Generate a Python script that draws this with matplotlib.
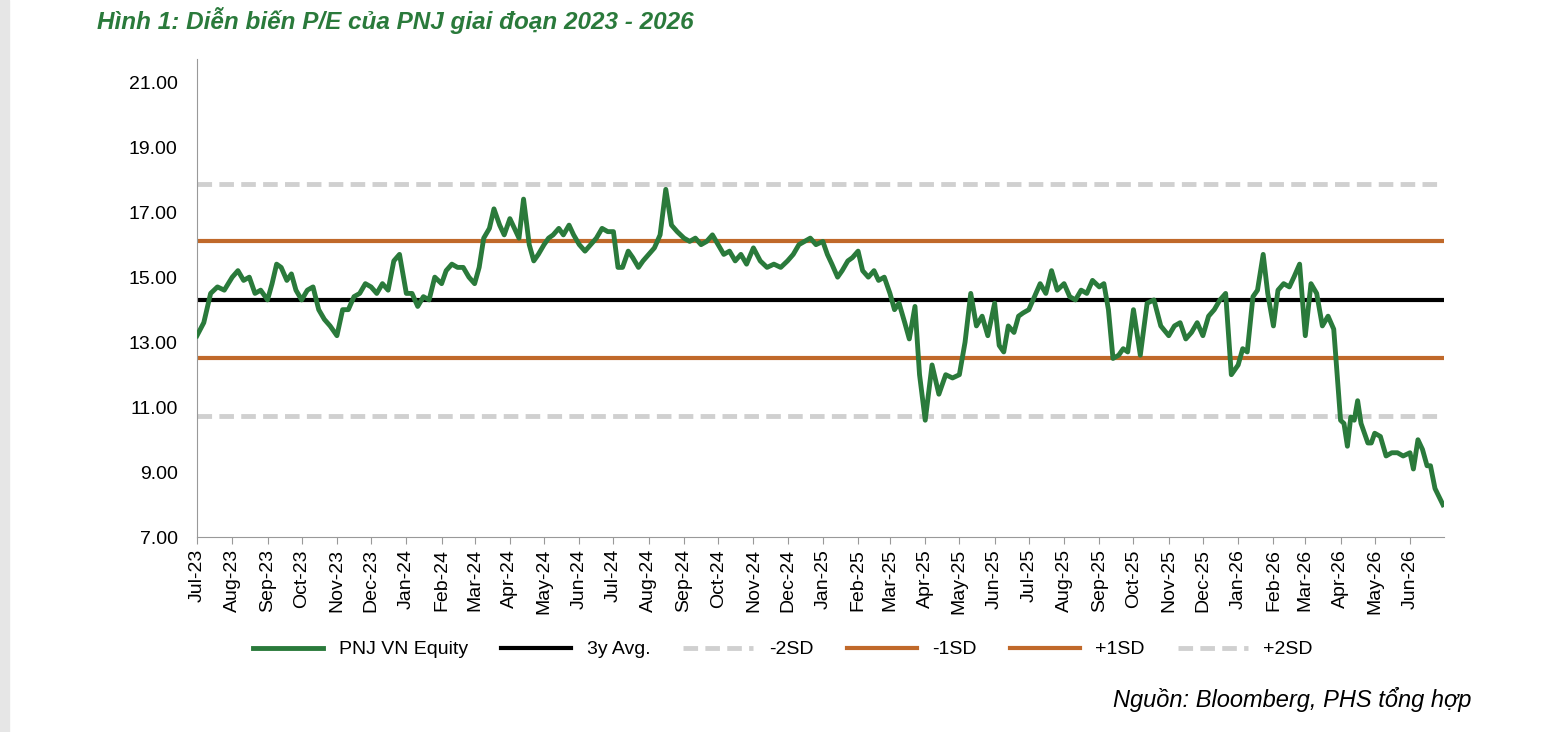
import matplotlib.pyplot as plt
import matplotlib.dates as mdates
import numpy as np
import datetime as dt

plt.rcParams['font.family'] = ['Liberation Sans', 'DejaVu Sans']

# P/E readings, grouped per month (Jul-23 .. Jun-26)
month_starts = [dt.date(2023 + (6 + i) // 12, (6 + i) % 12 + 1, 1) for i in range(36)]
pe_by_month = [
    [13.2, 13.6, 14.5, 14.7, 14.6],
    [15.0, 15.2, 14.9, 15.0, 14.5, 14.6],
    [14.3, 14.8, 15.4, 15.3, 14.9, 15.1, 14.6],
    [14.3, 14.6, 14.7, 14.0, 13.7, 13.5],
    [13.2, 14.0, 14.0, 14.4, 14.5, 14.8],
    [14.7, 14.5, 14.8, 14.6, 15.5, 15.7],
    [14.5, 14.5, 14.1, 14.4, 14.3, 15.0],
    [14.8, 15.2, 15.4, 15.3, 15.3, 15.0],
    [14.8, 15.3, 16.2, 16.5, 17.1, 16.6, 16.3],
    [16.8, 16.5, 16.2, 17.4, 16.0, 15.5, 15.7],
    [16.0, 16.2, 16.3, 16.5, 16.3, 16.6, 16.3],
    [16.0, 15.8, 16.0, 16.2, 16.5, 16.4],
    [16.4, 15.3, 15.3, 15.8, 15.6, 15.3, 15.5],
    [15.7, 15.9, 16.3, 17.7, 16.6, 16.4],
    [16.2, 16.1, 16.2, 16.0, 16.1, 16.3],
    [16.0, 15.7, 15.8, 15.5, 15.7, 15.4],
    [15.9, 15.5, 15.3, 15.4, 15.3],
    [15.5, 15.7, 16.0, 16.1, 16.2, 16.0],
    [16.1, 15.7, 15.4, 15.0, 15.2, 15.5, 15.6],
    [15.8, 15.2, 15.0, 15.2, 14.9, 15.0],
    [14.5, 14.0, 14.2, 13.6, 13.1, 14.1, 12.0],
    [10.6, 12.3, 11.4, 12.0, 11.9],
    [12.0, 13.0, 14.5, 13.5, 13.8, 13.2],
    [14.2, 12.9, 12.7, 13.5, 13.3, 13.8, 13.9],
    [14.0, 14.4, 14.8, 14.5, 15.2, 14.6],
    [14.8, 14.4, 14.3, 14.6, 14.5, 14.9],
    [14.7, 14.8, 14.0, 12.5, 12.6, 12.8, 12.7],
    [14.0, 12.6, 14.2, 14.3, 13.5],
    [13.2, 13.5, 13.6, 13.1, 13.3, 13.6],
    [13.2, 13.8, 14.0, 14.3, 14.5, 12.0],
    [12.3, 12.8, 12.7, 14.4, 14.6, 15.7, 14.5],
    [13.5, 14.6, 14.8, 14.7, 15.0, 15.4],
    [13.2, 14.8, 14.5, 13.5, 13.8, 13.4],
    [10.6, 10.5, 9.8, 10.7, 10.6, 11.2, 10.5, 10.2, 9.9, 9.9],
    [10.2, 10.1, 9.5, 9.6, 9.6, 9.5],
    [9.6, 9.1, 10.0, 9.7, 9.2, 9.2, 8.5, 8.0],
]
avg_3y = 14.3
sd_levels = {'-2SD': 10.72, '-1SD': 12.52, '+1SD': 16.1, '+2SD': 17.88}

dates, values = [], []
for i, (m, vals) in enumerate(zip(month_starts, pe_by_month)):
    nxt = month_starts[i + 1] if i + 1 < len(month_starts) else dt.date(2026, 7, 1)
    span = (nxt - m).days
    for k, v in enumerate(vals):
        dates.append(m + dt.timedelta(days=span * k / len(vals)))
        values.append(v)
dates[-1] = dt.date(2026, 6, 30)

fig = plt.figure(figsize=(15.57, 7.32), dpi=100)
fig.patches.append(plt.Rectangle((0, 0), 0.006, 1, transform=fig.transFigure, color='#e6e6e6'))
ax = fig.add_axes([0.1265, 0.266, 0.801, 0.653])

green = '#2a7a3b'
orange = '#c0692a'
gray = '#d0d0d0'
ax.plot(dates, values, color=green, lw=3.5, label='PNJ VN Equity', zorder=5)
ax.axhline(avg_3y, color='black', lw=3, label='3y Avg.')
ax.axhline(sd_levels['-2SD'], color=gray, lw=3.5, ls=(0, (3, 1.5)), label='-2SD')
ax.axhline(sd_levels['-1SD'], color=orange, lw=3, label='-1SD')
ax.axhline(sd_levels['+1SD'], color=orange, lw=3, label='+1SD')
ax.axhline(sd_levels['+2SD'], color=gray, lw=3.5, ls=(0, (3, 1.5)), label='+2SD')

ax.set_ylim(7, 21.7)
ax.set_yticks(np.arange(7, 22, 2))
ax.set_yticklabels([f'{v:.2f}' for v in np.arange(7, 22, 2)], fontsize=14)
ax.set_xlim(dt.date(2023, 7, 1), dt.date(2026, 7, 1))
ax.set_xticks(month_starts)
ax.xaxis.set_major_formatter(mdates.DateFormatter('%b-%y'))
plt.setp(ax.get_xticklabels(), rotation=90, fontsize=14)
ax.tick_params(axis='y', length=0, pad=14)
ax.tick_params(axis='x', length=5, color='#999999')
for s in ['top', 'right']:
    ax.spines[s].set_visible(False)
ax.spines['left'].set_color('#999999')
ax.spines['bottom'].set_color('#999999')

ax.legend(loc='upper center', bbox_to_anchor=(0.47, -0.18), ncol=6, frameon=False,
          fontsize=14, handlelength=3.6, handletextpad=0.8, columnspacing=1.7)

fig.text(0.062, 0.972, 'Hình 1: Diễn biến P/E của PNJ giai đoạn 2023 - 2026', color=green,
         fontsize=17.5, fontweight='bold', style='italic', va='center')
fig.text(0.945, 0.045, 'Nguồn: Bloomberg, PHS tổng hợp', fontsize=17, style='italic',
         ha='right', va='center')

fig.savefig('out.png', dpi=100)
